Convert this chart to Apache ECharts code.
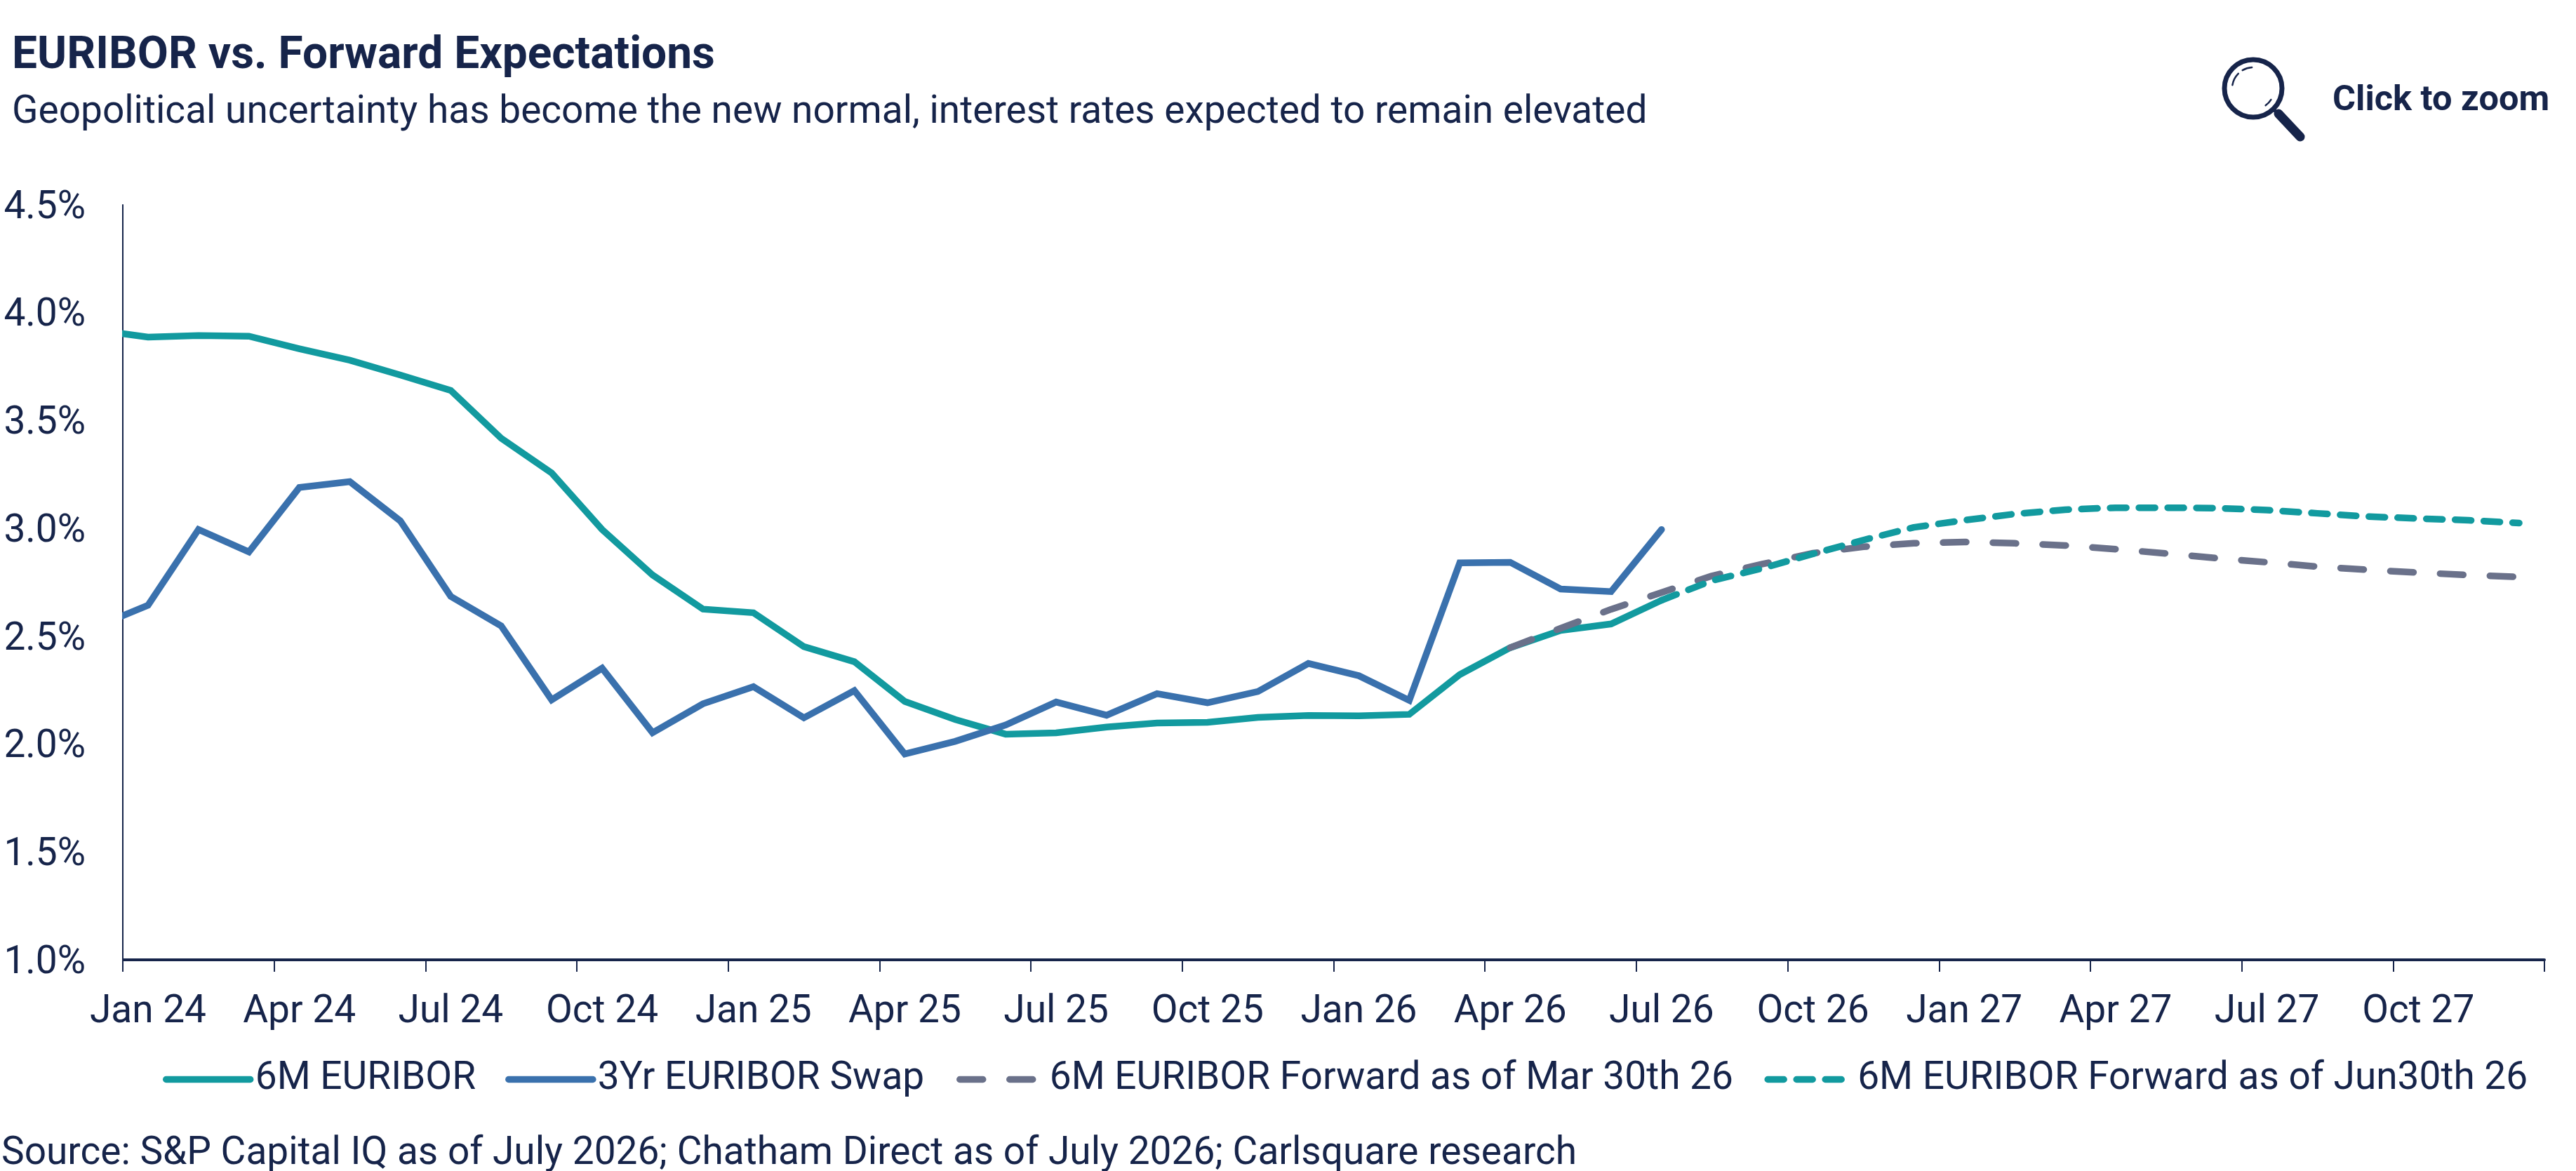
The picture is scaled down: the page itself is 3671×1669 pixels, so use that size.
<!DOCTYPE html>
<html>
<head>
<meta charset="utf-8">
<style>html,body{margin:0;padding:0;background:#fff}#c{width:3671px;height:1669px}</style>
<script src="https://cdn.jsdelivr.net/npm/echarts@6/dist/echarts.min.js"></script>
</head>
<body>
<div id="c"></div>
<script>
var months = ['Dec 23',
 'Jan 24','Feb 24','Mar 24','Apr 24','May 24','Jun 24','Jul 24','Aug 24','Sep 24','Oct 24','Nov 24','Dec 24',
 'Jan 25','Feb 25','Mar 25','Apr 25','May 25','Jun 25','Jul 25','Aug 25','Sep 25','Oct 25','Nov 25','Dec 25',
 'Jan 26','Feb 26','Mar 26','Apr 26','May 26','Jun 26','Jul 26','Aug 26','Sep 26','Oct 26','Nov 26','Dec 26',
 'Jan 27','Feb 27','Mar 27','Apr 27','May 27','Jun 27','Jul 27','Aug 27','Sep 27','Oct 27','Nov 27','Dec 27'];
var euribor6m = [3.919,
 3.887,3.894,3.891,3.833,3.780,3.711,3.640,3.418,3.257,2.995,2.784,2.626,
 2.609,2.452,2.382,2.198,2.114,2.046,2.052,2.079,2.098,2.101,2.124,2.133,
 2.131,2.138,2.322,2.447,2.527,2.557,2.667];
var swap3y = [2.547,
 2.644,2.995,2.891,3.190,3.217,3.035,2.685,2.548,2.205,2.352,2.053,2.187,
 2.266,2.122,2.248,1.954,2.013,2.089,2.195,2.134,2.234,2.192,2.244,2.374,
 2.317,2.203,2.840,2.843,2.719,2.707,2.995];
// months before the forward curve begins are null
var forwardMar = [null,
 null,null,null,null,null,null,null,null,null,null,null,null,
 null,null,null,null,null,null,null,null,null,null,null,null,
 null,null,null,2.447,2.537,2.625,2.703,2.780,2.835,2.885,2.915,2.931,
 2.937,2.931,2.921,2.904,2.884,2.862,2.843,2.823,2.808,2.795,2.784,2.775];
var forwardJun = [null,
 null,null,null,null,null,null,null,null,null,null,null,null,
 null,null,null,null,null,null,null,null,null,null,null,null,
 null,null,null,null,null,null,2.667,2.758,2.815,2.882,2.946,3.005,
 3.038,3.067,3.087,3.096,3.096,3.094,3.085,3.070,3.055,3.046,3.038,3.025];

var NAVY = '#16244a', TEAL = '#129a9f', BLUE = '#3a71ad', GREY = '#6a718a';
var FONT = 'Roboto';
var LW = 9.5;

var chart = echarts.init(document.getElementById('c'), null, {renderer:'canvas', width:3671, height:1669});

function quarterly(i){ return (i - 1) % 3 === 0; }

function legendBase(left, width, gap, textPad, names){
  return {
    left:left, top:1511, orient:'horizontal', padding:0,
    itemWidth:width, itemHeight:30, itemGap:gap, selectedMode:false,
    itemStyle:{opacity:0},
    lineStyle:{width:LW, cap:'round'},
    data:names,
    textStyle:{fontFamily:FONT, fontSize:55, color:NAVY, padding:[0,0,0,textPad]}
  };
}

chart.setOption({
  animation:false,
  backgroundColor:'#fff',
  title:[
    {text:'EURIBOR vs. Forward Expectations', left:17, top:49, padding:0,
     textStyle:{fontFamily:FONT, fontSize:64, fontWeight:700, color:NAVY}},
    {text:'Geopolitical uncertainty has become the new normal, interest rates expected to remain elevated', left:17, top:134, padding:0,
     textStyle:{fontFamily:FONT, fontSize:55, fontWeight:400, color:NAVY}},
    {text:'Click to zoom', left:3324, top:119, padding:0,
     textStyle:{fontFamily:FONT, fontSize:50.5, fontWeight:700, color:NAVY}},
    {text:'Source: S&P Capital IQ as of July 2026; Chatham Direct as of July 2026; Carlsquare research', left:2, top:1618, padding:0,
     textStyle:{fontFamily:FONT, fontSize:55, fontWeight:400, color:NAVY}}
  ],
  grid:{left:175, top:292, width:3451, height:1076, containLabel:false},
  legend:[
    legendBase(232,120,42,2,['6M EURIBOR','3Yr EURIBOR Swap']),
    legendBase(1363,110,44.5,13,['6M EURIBOR Forward as of Mar 30th 26','6M EURIBOR Forward as of Jun30th 26'])
  ],
  xAxis:{
    type:'category', data:months, boundaryGap:true, min:1, max:48,
    axisLine:{show:true, lineStyle:{color:NAVY, width:4}},
    axisTick:{show:true, interval:quarterly, length:17, lineStyle:{color:NAVY, width:2}},
    axisLabel:{show:true, interval:quarterly, margin:48, fontFamily:FONT, fontSize:55, color:NAVY, hideOverlap:false},
    splitLine:{show:false}
  },
  yAxis:{
    type:'value', min:1, max:4.5, interval:0.5,
    axisLine:{show:true, lineStyle:{color:NAVY, width:2}},
    axisTick:{show:false},
    axisLabel:{margin:53, fontFamily:FONT, fontSize:55, color:NAVY, verticalAlign:'top', lineHeight:10, formatter:function(v){return v.toFixed(1)+'%';}},
    splitLine:{show:false}
  },
  series:[
    {name:'6M EURIBOR', type:'line', data:euribor6m, symbol:'none', z:2,
     lineStyle:{color:TEAL, width:LW, cap:'round', join:'miter'}, itemStyle:{color:TEAL}},
    {name:'3Yr EURIBOR Swap', type:'line', data:swap3y, symbol:'none', z:3,
     lineStyle:{color:BLUE, width:LW, cap:'round', join:'miter'}, itemStyle:{color:BLUE}},
    {name:'6M EURIBOR Forward as of Mar 30th 26', type:'line', data:forwardMar, symbol:'none', z:4,
     lineStyle:{color:GREY, width:LW, cap:'round', type:[33,38]}, itemStyle:{color:GREY}},
    {name:'6M EURIBOR Forward as of Jun30th 26', type:'line', data:forwardJun, symbol:'none', z:5,
     lineStyle:{color:TEAL, width:LW, cap:'round', type:[23,18]}, itemStyle:{color:TEAL}}
  ],
  graphic:[
    {type:'rect', z:10, shape:{x:165,y:280,width:9,height:1100}, style:{fill:'#fff'}},
    {type:'circle', z:10, shape:{cx:3211,cy:126,r:41}, style:{fill:'none', stroke:NAVY, lineWidth:7}},
    {type:'line', z:10, shape:{x1:3247,y1:162,x2:3278,y2:195}, style:{stroke:NAVY, lineWidth:13, lineCap:'round'}},
    {type:'line', z:10, shape:{x1:3241,y1:157,x2:3248,y2:164}, style:{stroke:NAVY, lineWidth:5}},
    {type:'arc', z:10, shape:{cx:3211,cy:126,r:30,startAngle:Math.PI*1.05,endAngle:Math.PI*1.25}, style:{fill:'none', stroke:NAVY, lineWidth:2.5, lineCap:'round'}},
    {type:'arc', z:10, shape:{cx:3211,cy:126,r:30,startAngle:Math.PI*1.33,endAngle:Math.PI*1.48}, style:{fill:'none', stroke:NAVY, lineWidth:2.5, lineCap:'round'}},
    {type:'arc', z:10, shape:{cx:3211,cy:126,r:30,startAngle:Math.PI*0.18,endAngle:Math.PI*0.3}, style:{fill:'none', stroke:NAVY, lineWidth:2.5, lineCap:'round'}}
  ]
});
</script>
</body>
</html>
